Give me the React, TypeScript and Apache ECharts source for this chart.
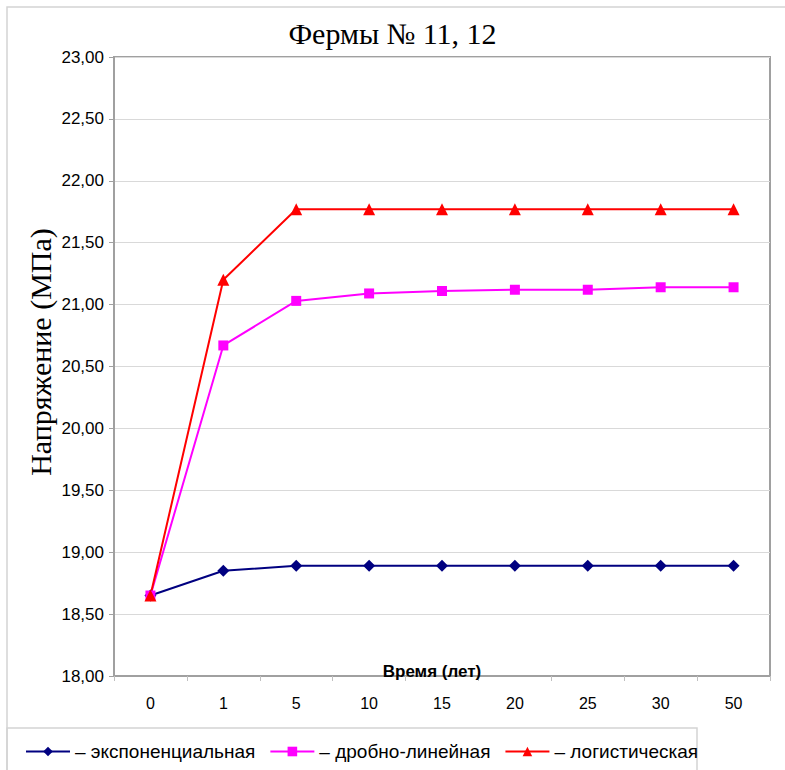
import React, { useEffect, useRef } from "react";
import * as echarts from "echarts";

const categories = ["0", "1", "5", "10", "15", "20", "25", "30", "50"];
const expValues = [18.65, 18.85, 18.89, 18.89, 18.89, 18.89, 18.89, 18.89, 18.89];
const fracValues = [18.65, 20.67, 21.03, 21.09, 21.11, 21.12, 21.12, 21.14, 21.14];
const logValues = [18.65, 21.2, 21.77, 21.77, 21.77, 21.77, 21.77, 21.77, 21.77];
const seriesNames = ["экспоненциальная", "дробно-линейная", "логистическая"];
const titleText = "Фермы № 11, 12";
const yName = "Напряжение (МПа)";
const xName = "Время (лет)";

const SANS = "'Liberation Sans', Arial, sans-serif";
const SERIF = "'Liberation Serif', 'Times New Roman', serif";

export default function App() {
  const ref = useRef<HTMLDivElement>(null);
  useEffect(() => {
    if (!ref.current) return;
    const chart = echarts.init(ref.current, null, { renderer: "svg" });
    const mk = (name: string, data: number[], color: string, symbol: string, size: number) => ({
      name,
      type: "line",
      data,
      symbol,
      symbolSize: size,
      showAllSymbol: true,
      lineStyle: { color, width: 2 },
      itemStyle: { color },
    });
    chart.setOption({
      animation: false,
      backgroundColor: "#ffffff",
      title: {
        text: titleText,
        left: "center",
        top: 13,
        textStyle: { fontFamily: SERIF, fontSize: 30, fontWeight: "normal", color: "#000" },
      },
      grid: {
        left: 114,
        right: 15,
        top: 57,
        bottom: 94,
        show: true,
        borderColor: "#a0a0a0",
        borderWidth: 2,
        backgroundColor: "transparent",
      },
      legend: {
        left: 20,
        top: 737,
        itemWidth: 44,
        itemHeight: 12,
        itemGap: 14,
        formatter: (n: string) => "– " + n,
        textStyle: { fontFamily: SANS, fontSize: 19, color: "#000", padding: [0, 0, 0, 0] },
        data: seriesNames,
      },
      xAxis: {
        type: "category",
        data: categories,
        boundaryGap: true,
        axisLine: { show: true, lineStyle: { color: "#a0a0a0", width: 2 } },
        axisTick: { show: true, length: 5, lineStyle: { color: "#c0c0c0" } },
        axisLabel: { fontFamily: SANS, fontSize: 16, color: "#000", margin: 19 },
        splitLine: { show: false },
      },
      yAxis: {
        type: "value",
        min: 18,
        max: 23,
        interval: 0.5,
        axisLine: { show: true, lineStyle: { color: "#a0a0a0", width: 2 } },
        axisTick: { show: true, length: 5, lineStyle: { color: "#a0a0a0" } },
        axisLabel: {
          fontFamily: SANS,
          fontSize: 17,
          color: "#000",
          margin: 10,
          formatter: (v: number) => v.toFixed(2).replace(".", ","),
        },
        splitLine: { show: true, lineStyle: { color: "#d9d9d9", width: 1 } },
      },
      graphic: [
        {
          type: "rect",
          shape: { x: 7, y: 7, width: 800, height: 800 },
          style: { fill: "none", stroke: "#d4d4d4", lineWidth: 1.5 },
          silent: true,
          z: -10,
        },
        {
          type: "rect",
          shape: { x: 7, y: 728, width: 690, height: 80 },
          style: { fill: "none", stroke: "#d4d4d4", lineWidth: 1.5 },
          silent: true,
          z: -10,
        },
        {
          type: "text",
          x: 40,
          y: 352,
          rotation: Math.PI / 2,
          style: {
            text: yName,
            font: "normal 30px " + SERIF,
            fill: "#000",
            align: "center",
            verticalAlign: "middle",
          },
        },
        {
          type: "text",
          x: 432,
          y: 671,
          z: 100,
          style: {
            text: xName,
            font: "bold 17px " + SANS,
            fill: "#000",
            align: "center",
            verticalAlign: "middle",
          },
        },
      ],
      series: [
        mk(seriesNames[0], expValues, "#000080", "diamond", 12),
        mk(seriesNames[1], fracValues, "#ff00ff", "rect", 10),
        mk(seriesNames[2], logValues, "#ff0000", "triangle", 12),
      ],
    });
    return () => chart.dispose();
  }, []);
  return (
    <div
      ref={ref}
      style={{ position: "absolute", left: 0, top: 0, width: 785, height: 770 }}
    />
  );
}
